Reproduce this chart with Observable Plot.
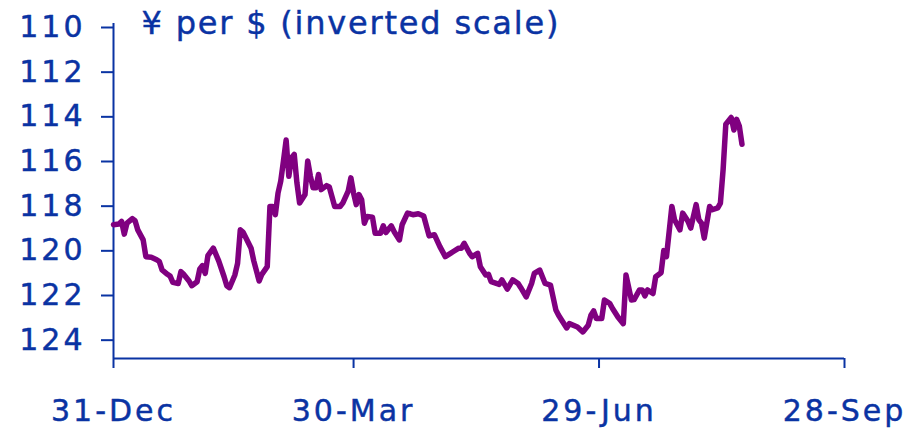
<!DOCTYPE html>
<html>
<head>
<meta charset="utf-8">
<script src="https://cdn.jsdelivr.net/npm/d3@7"></script>
<script src="https://cdn.jsdelivr.net/npm/@observablehq/plot@0.6"></script>
<style>
  html, body { margin: 0; padding: 0; background: #ffffff; }
  svg text { stroke: #0a33a3; stroke-width: 0.45px; }
  .ttl text { letter-spacing: 1.8px; }
</style>
</head>
<body>
<div id="chart"></div>
<script>
const title = "¥ per $ (inverted scale)";
const xTicks = ["2006-12-31", "2007-03-30", "2007-06-29", "2007-09-28"];
const yTicks = [110, 112, 114, 116, 118, 120, 122, 124];
const yDomain = [110, 125];

const dates = [
  "2006-12-31","2007-01-02","2007-01-03","2007-01-04","2007-01-05","2007-01-07","2007-01-08","2007-01-09",
  "2007-01-11","2007-01-12","2007-01-14","2007-01-16","2007-01-17","2007-01-18","2007-01-20","2007-01-21",
  "2007-01-22","2007-01-24","2007-01-25","2007-01-26","2007-01-28","2007-01-29","2007-01-31","2007-02-01",
  "2007-02-02","2007-02-03","2007-02-04","2007-02-06","2007-02-08","2007-02-10","2007-02-11","2007-02-12",
  "2007-02-14","2007-02-15","2007-02-16","2007-02-17","2007-02-20","2007-02-21","2007-02-23","2007-02-24",
  "2007-02-26","2007-02-27","2007-02-28","2007-03-01","2007-03-02","2007-03-03","2007-03-04","2007-03-05",
  "2007-03-06","2007-03-07","2007-03-08","2007-03-09","2007-03-10","2007-03-12","2007-03-13","2007-03-14",
  "2007-03-15","2007-03-16","2007-03-17","2007-03-18","2007-03-20","2007-03-21","2007-03-23","2007-03-25",
  "2007-03-26","2007-03-28","2007-03-29","2007-03-30","2007-03-31","2007-04-01","2007-04-02","2007-04-03",
  "2007-04-04","2007-04-06","2007-04-07","2007-04-09","2007-04-10","2007-04-11","2007-04-13","2007-04-14",
  "2007-04-16","2007-04-17","2007-04-19","2007-04-20","2007-04-21","2007-04-23","2007-04-25","2007-04-27",
  "2007-04-29","2007-05-01","2007-05-03","2007-05-06","2007-05-08","2007-05-09","2007-05-10","2007-05-12",
  "2007-05-13","2007-05-15","2007-05-16","2007-05-18","2007-05-19","2007-05-20","2007-05-23","2007-05-24",
  "2007-05-26","2007-05-28","2007-05-30","2007-05-31","2007-06-02","2007-06-04","2007-06-05","2007-06-07",
  "2007-06-09","2007-06-11","2007-06-13","2007-06-14","2007-06-17","2007-06-18","2007-06-21","2007-06-23",
  "2007-06-25","2007-06-26","2007-06-27","2007-06-28","2007-06-30","2007-07-01","2007-07-03","2007-07-04",
  "2007-07-06","2007-07-08","2007-07-09","2007-07-11","2007-07-12","2007-07-14","2007-07-15","2007-07-16",
  "2007-07-17","2007-07-19","2007-07-20","2007-07-22","2007-07-23","2007-07-24","2007-07-26","2007-07-27",
  "2007-07-29","2007-07-30","2007-08-01","2007-08-02","2007-08-04","2007-08-05","2007-08-06","2007-08-07",
  "2007-08-09","2007-08-10","2007-08-12","2007-08-13","2007-08-14","2007-08-15","2007-08-17","2007-08-18",
  "2007-08-19","2007-08-20","2007-08-21"
];
const yenPerDollar = [
  119.01,118.98,118.86,119.43,118.94,118.74,118.83,119.24,
  119.69,120.44,120.47,120.58,120.66,121.03,121.23,121.31,
  121.59,121.64,121.11,121.23,121.53,121.74,121.56,120.99,
  120.84,121.19,120.39,120.06,120.63,121.34,121.74,121.83,
  121.26,120.74,119.24,119.34,120.06,120.63,121.53,121.23,
  120.89,118.19,118.19,118.56,117.59,117.06,116.16,115.22,
  116.84,116.01,115.86,117.14,118.04,117.66,116.16,116.84,
  117.36,117.36,116.76,117.44,117.26,117.32,118.19,118.19,
  118.04,117.51,116.91,117.59,118.11,117.66,117.89,118.94,
  118.64,118.67,119.39,119.39,119.06,119.36,119.06,119.31,
  119.69,119.01,118.49,118.52,118.56,118.52,118.62,119.51,
  119.46,119.99,120.44,120.21,120.06,120.06,119.84,120.29,
  120.44,120.29,120.89,121.26,121.23,121.56,121.68,121.48,
  121.89,121.48,121.64,121.83,122.24,121.64,121.19,121.04,
  121.64,121.71,122.83,123.06,123.63,123.44,123.59,123.81,
  123.51,123.06,122.87,123.21,123.21,122.38,122.54,122.76,
  123.14,123.44,121.26,122.38,122.36,121.93,121.93,122.20,
  121.93,122.09,121.34,121.16,120.17,120.44,118.19,118.79,
  119.24,118.49,118.86,119.16,118.11,118.79,118.94,119.61,
  118.19,118.34,118.26,118.04,116.54,114.51,114.21,114.77,
  114.29,114.59,115.41
];

const parse = d3.utcParse("%Y-%m-%d");
const data = dates.map((d, i) => ({date: parse(d), value: yenPerDollar[i]}));
const tickDates = xTicks.map(parse);

const blue = "#0a33a3";
const purple = "#800080";

const chart = Plot.plot({
  width: 920,
  height: 429,
  marginLeft: 113,
  marginRight: 76,
  marginTop: 23,
  marginBottom: 71,
  style: {fontFamily: "'DejaVu Sans', Verdana, sans-serif", fontSize: "30px", color: blue, background: "#ffffff", letterSpacing: "3px"},
  x: {type: "utc", domain: [tickDates[0], tickDates[3]]},
  y: {domain: yDomain, reverse: true},
  marks: [
    Plot.axisY({ticks: yTicks, tickSize: 12, tickPadding: 16, dy: 4, label: null, stroke: blue, strokeWidth: 2, fill: blue}),
    Plot.axisX({ticks: tickDates, tickFormat: d3.utcFormat("%d-%b"), tickSize: 10, tickPadding: 31, label: null, stroke: blue, strokeWidth: 2, fill: blue}),
    Plot.ruleX([tickDates[0]], {stroke: blue, strokeWidth: 2}),
    Plot.ruleY([yDomain[1]], {stroke: blue, strokeWidth: 2}),
    Plot.line(data, {x: "date", y: "value", stroke: purple, strokeWidth: 5.5, strokeLinejoin: "round", strokeLinecap: "round"}),
    Plot.text([title], {frameAnchor: "top-left", dx: 28, textAnchor: "start", lineAnchor: "middle", fontSize: 32, fill: blue, className: "ttl"})
  ]
});
document.getElementById("chart").appendChild(chart);
</script>
</body>
</html>
